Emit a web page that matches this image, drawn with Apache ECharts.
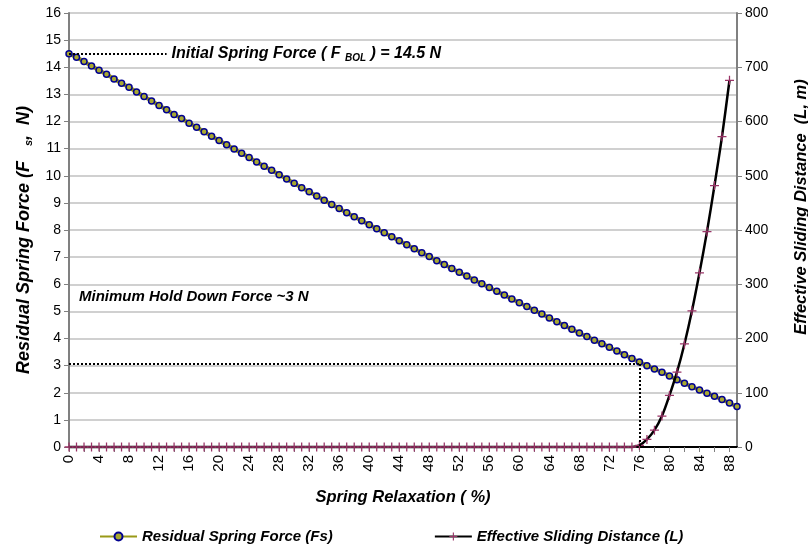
<!DOCTYPE html>
<html><head><meta charset="utf-8">
<script src="https://cdn.jsdelivr.net/npm/echarts@6/dist/echarts.min.js"></script>
<style>html,body{margin:0;padding:0;background:#fff}#c{width:808px;height:546px}</style>
</head><body><div id="c"></div>
<script>
// Spring relaxation (%) categories 0..89
const relaxation = [0,1,2,3,4,5,6,7,8,9,10,11,12,13,14,15,16,17,18,19,20,21,22,23,24,25,26,27,28,29,
  30,31,32,33,34,35,36,37,38,39,40,41,42,43,44,45,46,47,48,49,50,51,52,53,54,55,56,57,58,59,
  60,61,62,63,64,65,66,67,68,69,70,71,72,73,74,75,76,77,78,79,80,81,82,83,84,85,86,87,88,89].map(String);

// Residual spring force Fs (N)
const springForce = [14.50,14.37,14.21,14.05,13.89,13.74,13.57,13.41,13.26,13.09,
  12.92,12.76,12.59,12.43,12.26,12.11,11.94,11.79,11.62,11.46,
  11.30,11.14,10.99,10.83,10.67,10.51,10.35,10.20,10.04,9.88,
  9.72,9.56,9.41,9.25,9.10,8.94,8.79,8.64,8.49,8.34,
  8.19,8.05,7.90,7.75,7.60,7.46,7.31,7.16,7.02,6.87,
  6.73,6.58,6.44,6.30,6.16,6.02,5.88,5.74,5.60,5.46,
  5.32,5.18,5.04,4.90,4.76,4.62,4.48,4.34,4.20,4.07,
  3.94,3.81,3.68,3.54,3.40,3.26,3.13,3.00,2.88,2.76,
  2.62,2.48,2.35,2.22,2.10,1.98,1.87,1.75,1.62,1.49];

// Effective sliding distance L (m)
const slidingDistance = [0,0,0,0,0,0,0,0,0,0, 0,0,0,0,0,0,0,0,0,0,
  0,0,0,0,0,0,0,0,0,0, 0,0,0,0,0,0,0,0,0,0,
  0,0,0,0,0,0,0,0,0,0, 0,0,0,0,0,0,0,0,0,0,
  0,0,0,0,0,0,0,0,0,0, 0,0,0,0,0,0,
  3,14,31,57,95,138,190,251,321,397,482,572,676,null];

// Annotation values
const initialForce = 14.5;
const initialLineEnd = '13';
const holdDownForce = 3.06;
const holdDownRelax = '76';
const holdLabelAnchor = ['1', 5.53];

const forceAxis = {min: 0, max: 16, interval: 1};
const distanceAxis = {min: 0, max: 800, interval: 100};

const FONT = 'Liberation Sans';
const chart = echarts.init(document.getElementById('c'));
const bi = (size) => ({fontFamily: FONT, fontSize: size, fontWeight: 'bold', fontStyle: 'italic', color: '#000'});
const plusPath = 'path://M4.3,0H5.7V4.3H10V5.7H5.7V10H4.3V5.7H0V4.3H4.3Z';

chart.setOption({
  animation: false,
  backgroundColor: '#fff',
  grid: {left: 69, right: 71, top: 13, bottom: 99, containLabel: false, outerBoundsMode: 'none'},
  legend: {
    left: 94, top: 524, itemWidth: 37, itemHeight: 10, itemGap: 101,
    selectedMode: false,
    textStyle: bi(15),
    data: ['Residual Spring Force (Fs)', 'Effective Sliding Distance (L)']
  },
  xAxis: [{
    type: 'category', data: relaxation, boundaryGap: false,
    name: 'Spring Relaxation ( %)', nameLocation: 'middle', nameGap: 42,
    nameTextStyle: bi(16.5),
    axisLine: {lineStyle: {color: '#808080', width: 2}},
    axisTick: {interval: 1, length: 5, lineStyle: {color: '#808080'}},
    axisLabel: {interval: 3, rotate: 90, margin: 8, fontFamily: FONT, fontSize: 15, color: '#000'},
    splitLine: {show: false}
  }, {
    type: 'category', data: relaxation, boundaryGap: false, position: 'top',
    axisLine: {lineStyle: {color: '#000', width: 2}},
    axisTick: {show: false}, axisLabel: {show: false}, splitLine: {show: false}
  }],
  yAxis: [{
    type: 'value', min: forceAxis.min, max: forceAxis.max, interval: forceAxis.interval,
    name: '{a|Residual Spring Force (F   }{b|s}{a|,  N)}', nameLocation: 'middle', nameGap: 31, nameRotate: 90,
    nameTextStyle: {padding: [0, 20, 0, 0], rich: {a: Object.assign({lineHeight: 20}, bi(18)), b: Object.assign(bi(11), {lineHeight: 11, verticalAlign: 'bottom'})}},
    axisLine: {show: true, lineStyle: {color: '#808080', width: 2}},
    axisTick: {show: true, length: 5, lineStyle: {color: '#808080'}},
    axisLabel: {margin: 8, fontFamily: FONT, fontSize: 14, color: '#000'},
    splitLine: {show: true, lineStyle: {color: '#c0c0c0', width: 1.5}}
  }, {
    type: 'value', min: distanceAxis.min, max: distanceAxis.max, interval: distanceAxis.interval, position: 'right',
    name: 'Effective Sliding Distance  (L, m)', nameLocation: 'middle', nameGap: 56, nameRotate: 90,
    nameTextStyle: Object.assign(bi(16.5), {padding: [0, 0, 0, 46]}),
    axisLine: {show: true, lineStyle: {color: '#808080', width: 2}},
    axisTick: {show: true, length: 5, lineStyle: {color: '#808080'}},
    axisLabel: {margin: 8, fontFamily: FONT, fontSize: 14, color: '#000'},
    splitLine: {show: false}
  }],
  series: [{
    name: 'Residual Spring Force (Fs)', type: 'line', data: springForce, yAxisIndex: 0,
    symbol: 'circle', symbolSize: 6, showAllSymbol: true,
    lineStyle: {color: '#999917', width: 4},
    itemStyle: {color: '#a8a830', borderColor: '#000090', borderWidth: 1.5},
    z: 3,
    markLine: {
      silent: true, symbol: ['none', 'none'], animation: false,
      lineStyle: {color: '#000', type: 'dotted', width: 2},
      label: {show: false},
      data: [
        [{coord: ['0', initialForce], label: {show: true, position: 'end', distance: 5,
            formatter: '{a|Initial Spring Force ( F }{b|BOL}{a| ) = 14.5 N}',
            rich: {a: Object.assign({lineHeight: 20}, bi(16)), b: Object.assign(bi(10), {lineHeight: 10, verticalAlign: 'bottom'})}}},
         {coord: [initialLineEnd, initialForce]}],
        [{coord: ['0', holdDownForce]}, {coord: [holdDownRelax, holdDownForce]}],
        [{coord: [holdDownRelax, holdDownForce]}, {coord: [holdDownRelax, 0]}]
      ]
    },
    markPoint: {
      silent: true, symbol: 'circle', symbolSize: 1, itemStyle: {color: 'rgba(0,0,0,0)'},
      label: Object.assign({show: true, position: 'right', distance: 2, formatter: 'Minimum Hold Down Force ~3 N'}, bi(15)),
      data: [{coord: holdLabelAnchor}]
    }
  }, {
    name: 'Effective Sliding Distance (L)', type: 'line', data: slidingDistance, yAxisIndex: 1,
    smooth: 0.3, symbol: plusPath, symbolSize: 9, showAllSymbol: true, clip: false,
    lineStyle: {color: '#000', width: 2.5},
    itemStyle: {color: '#993366'},
    z: 4
  }]
});
</script></body></html>
